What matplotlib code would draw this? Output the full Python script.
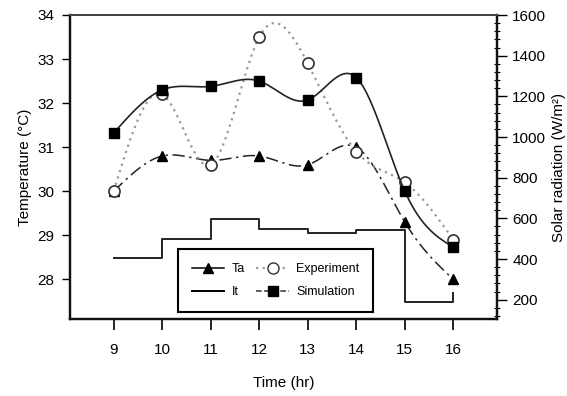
import numpy as np
import matplotlib
matplotlib.use('Agg')
import matplotlib.pyplot as plt
from matplotlib.ticker import MultipleLocator

plt.rcParams['font.family'] = ['Liberation Sans', 'DejaVu Sans']

# data
hours = [9, 10, 11, 12, 13, 14, 15, 16]
ta = [30.0, 30.8, 30.7, 30.8, 30.6, 31.0, 29.3, 28.0]
experiment = [30.0, 32.2, 30.6, 33.5, 32.9, 30.9, 30.2, 28.9]
simulation = [31.32, 32.3, 32.38, 32.5, 32.07, 32.58, 30.0, 28.73]
solar = [405, 500, 595, 550, 530, 545, 190, 232]


def smooth(x, y, n=300):
    # natural cubic spline through the points, only for drawing the curve
    x = np.asarray(x, float)
    y = np.asarray(y, float)
    k = len(x)
    h = np.diff(x)
    A = np.zeros((k, k))
    b = np.zeros(k)
    A[0, 0] = A[-1, -1] = 1
    for i in range(1, k - 1):
        A[i, i - 1] = h[i - 1]
        A[i, i] = 2 * (h[i - 1] + h[i])
        A[i, i + 1] = h[i]
        b[i] = 3 * ((y[i + 1] - y[i]) / h[i] - (y[i] - y[i - 1]) / h[i - 1])
    c = np.linalg.solve(A, b)
    xs = np.linspace(x[0], x[-1], n)
    idx = np.clip(np.searchsorted(x, xs) - 1, 0, k - 2)
    dx = xs - x[idx]
    bb = (y[idx + 1] - y[idx]) / h[idx] - h[idx] * (2 * c[idx] + c[idx + 1]) / 3
    dd = (c[idx + 1] - c[idx]) / (3 * h[idx])
    ys = y[idx] + bb * dx + c[idx] * dx ** 2 + dd * dx ** 3
    return xs, ys


fig = plt.figure(figsize=(5.67, 3.96), dpi=100)
ax = fig.add_axes([70 / 567, 77 / 396, 427 / 567, 304 / 396])
ax2 = ax.twinx()

xs, ys = smooth(hours, ta)
ax.plot(xs, ys, color='#222222', lw=1.1, ls=(0, (8, 3, 1.5, 3)))
ax.plot(hours, ta, ls='none', marker='^', ms=7, color='black')

xs, ys = smooth(hours, experiment)
ax.plot(xs, ys, color='#999999', lw=1.6, ls=(0, (1, 2)))
ax.plot(hours, experiment, ls='none', marker='o', ms=8, mfc='white', mec='#333333', mew=1.2)

xs, ys = smooth(hours, simulation)
ax.plot(xs, ys, color='#222222', lw=1.2)
ax.plot(hours, simulation, ls='none', marker='s', ms=6.5, color='black')

ax2.step(hours, solar, where='post', color='#222222', lw=1.4)

ax.set_xlim(8.1, 16.9)
ax.set_ylim(27.1, 34.0)
ax2.set_ylim(105, 1600)

ax.set_xticks(hours)
ax.set_yticks(range(28, 35))
ax2.set_yticks(range(200, 1601, 200))
ax2.yaxis.set_minor_locator(MultipleLocator(40))

ax.tick_params(axis='x', direction='out', length=8, width=1.2, pad=9, labelsize=11)
ax.tick_params(axis='y', direction='out', length=6, width=1.0, pad=5, labelsize=11)
ax2.tick_params(axis='y', which='major', direction='out', length=7, width=1.0, pad=4, labelsize=11)
ax2.tick_params(axis='y', which='minor', direction='inout', length=5, width=0.8)

for a in (ax, ax2):
    for s in ('left', 'bottom', 'right'):
        a.spines[s].set_linewidth(1.6)
        a.spines[s].set_color('#111111')
    a.spines['top'].set_linewidth(1.4)
    a.spines['top'].set_color('#444444')

ax.set_xlabel('Time (hr)', fontsize=11, labelpad=14)
ax.set_ylabel('Temperature (\u00b0C)', fontsize=11, labelpad=4)
ax2.set_ylabel('Solar radiation (W/m\u00b2)', fontsize=11, labelpad=4)

h_ta = plt.Line2D([], [], color='black', lw=1.1, marker='^', ms=7)
h_it = plt.Line2D([], [], color='black', lw=1.4)
h_ex = plt.Line2D([], [], color='#999999', lw=1.6, ls=(0, (1, 2)), marker='o', ms=8,
                  mfc='white', mec='#333333')
h_si = plt.Line2D([], [], color='#333333', lw=1.1, ls='--', marker='s', ms=6.5, mfc='black', mec='black')
leg = ax2.legend([h_ta, h_it, h_ex, h_si], ['Ta', 'It', 'Experiment', 'Simulation'],
                 ncol=2, loc='lower left', bbox_to_anchor=(0.253, 0.023), borderaxespad=0,
                 fontsize=9, frameon=True, fancybox=False, framealpha=1,
                 handlelength=2.6, handletextpad=0.6, columnspacing=0.9,
                 borderpad=1.1, labelspacing=0.9)
leg.get_frame().set_edgecolor('black')
leg.get_frame().set_linewidth(1.5)

fig.savefig('out.png', dpi=100)
